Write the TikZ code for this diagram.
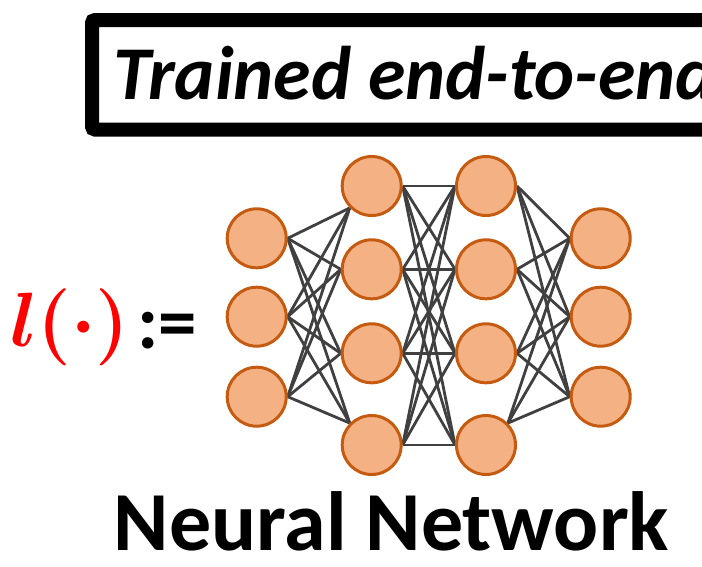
\documentclass[tikz,border=0pt]{standalone}
\usepackage{fix-cm}
\usepackage{fontspec}
\setmainfont{Carlito}
\usetikzlibrary{backgrounds}
\definecolor{nodefill}{HTML}{F4B183}
\definecolor{nodeedge}{HTML}{C55A11}
\definecolor{linkgray}{HTML}{404040}
\begin{document}
\begin{tikzpicture}[x=1pt,y=-1pt,
  neuron/.style={circle, draw=nodeedge, fill=nodefill, line width=3pt, minimum size=59pt, inner sep=0pt},
  link/.style={draw=linkgray, line width=2.8pt}]
\useasboundingbox (0,0) rectangle (702,566);
\clip (0,0) rectangle (702,566);
% title box
\draw[line width=14pt, rounded corners=3pt] (92,20) rectangle (740,129.5);
\node[anchor=base west, inner sep=0pt, font=\fontsize{76}{76}\selectfont\bfseries\itshape] (title) at (113,99) {Trained end-to-end};
% formula
\node[anchor=base west, inner sep=0pt, text=red, font=\fontsize{77}{77}\selectfont\boldmath] (loss) at (10,346) {$l(\cdot)$};
\node[anchor=base west, inner sep=0pt, font=\fontsize{77}{77}\selectfont\bfseries] (def) at (137,348) {:=};
% neurons
\foreach \i/\y in {1/238.3,2/316.7,3/396.7} {
  \node[neuron] (a\i) at (256.7,\y) {};
  \node[neuron] (d\i) at (600.7,\y) {};
}
\foreach \i/\y in {1/186,2/269.3,3/353.3,4/445} {
  \node[neuron] (b\i) at (371.7,\y) {};
  \node[neuron] (c\i) at (486,\y) {};
}
\begin{scope}[on background layer]
\foreach \i in {1,2,3} {
  \draw[link] (a\i.east) -- (b1.south west);
  \draw[link] (a\i.east) -- (b2.west);
  \draw[link] (a\i.east) -- (b3.west);
  \draw[link] (a\i.east) -- (b4.north west);
  \draw[link] (c1.east) -- (d\i.west);
  \draw[link] (c2.east) -- (d\i.west);
  \draw[link] (c3.east) -- (d\i.west);
  \draw[link] (c4.north east) -- (d\i.west);
}
\foreach \i in {1,2,3,4} {
  \foreach \j in {1,2,3,4} {
    \draw[link] (b\i.east) -- (c\j.west);
  }
}
\end{scope}
% caption
\node[anchor=base, inner sep=0pt, font=\fontsize{84}{84}\selectfont\bfseries] (nn) at (391.5,550) {Neural Network};
\end{tikzpicture}
\end{document}
